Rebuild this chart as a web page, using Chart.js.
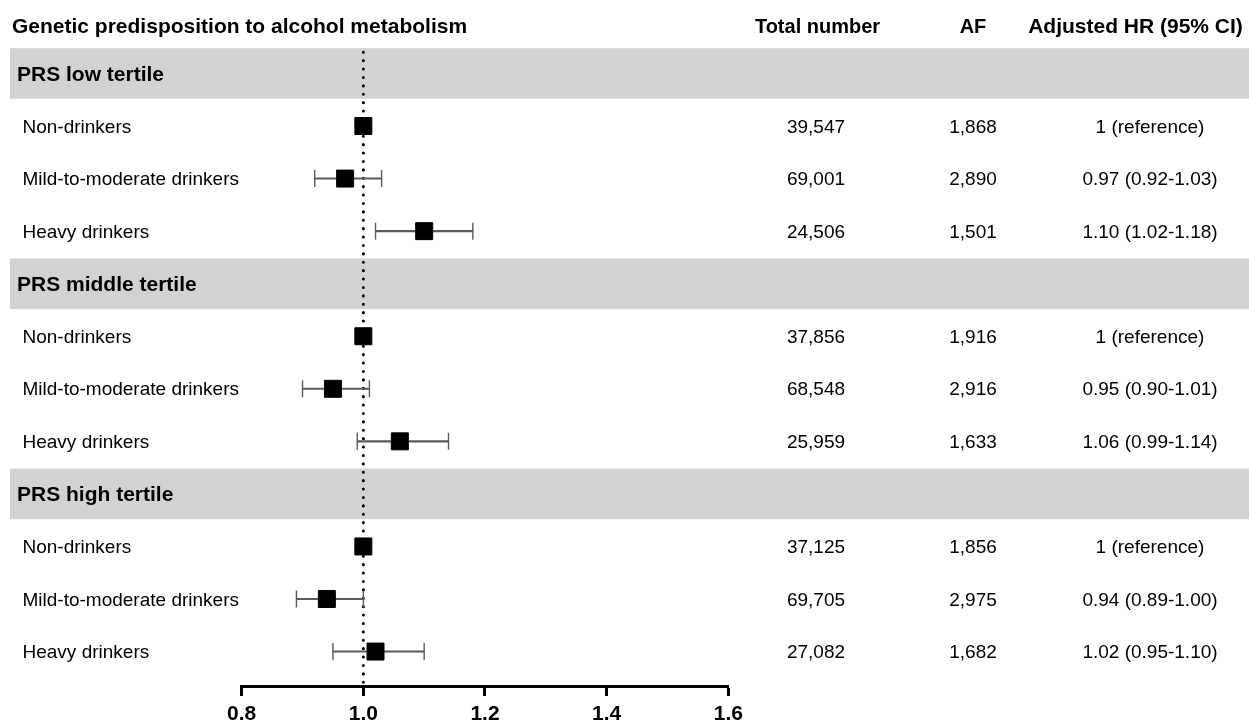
<!DOCTYPE html>
<html>
<head>
<meta charset="utf-8">
<script src="https://cdn.jsdelivr.net/npm/chart.js@4"></script>
<style>
  html, body { margin: 0; padding: 0; background: #fff; }
  #wrap { width: 1249px; height: 722px; position: relative; }
</style>
</head>
<body>
<div id="wrap"><canvas id="forest"></canvas></div>
<script>
// Rows top to bottom (group header rows have no estimate)
const rowLabels = [
  'PRS low tertile', 'Non-drinkers', 'Mild-to-moderate drinkers', 'Heavy drinkers',
  'PRS middle tertile', 'Non-drinkers', 'Mild-to-moderate drinkers', 'Heavy drinkers',
  'PRS high tertile', 'Non-drinkers', 'Mild-to-moderate drinkers', 'Heavy drinkers'
];
const isGroup = [true, false, false, false, true, false, false, false, true, false, false, false];

const hrValues = [null, 1, 0.97, 1.10, null, 1, 0.95, 1.06, null, 1, 0.94, 1.02];
const ciLow    = [null, null, 0.92, 1.02, null, null, 0.90, 0.99, null, null, 0.89, 0.95];
const ciHigh   = [null, null, 1.03, 1.18, null, null, 1.01, 1.14, null, null, 1.00, 1.10];

const totalNumber = ['', '39,547', '69,001', '24,506', '', '37,856', '68,548', '25,959', '', '37,125', '69,705', '27,082'];
const afCount     = ['', '1,868', '2,890', '1,501', '', '1,916', '2,916', '1,633', '', '1,856', '2,975', '1,682'];
const hrText = [
  '', '1 (reference)', '0.97 (0.92-1.03)', '1.10 (1.02-1.18)',
  '', '1 (reference)', '0.95 (0.90-1.01)', '1.06 (0.99-1.14)',
  '', '1 (reference)', '0.94 (0.89-1.00)', '1.02 (0.95-1.10)'
];
const xTicks = [0.8, 1.0, 1.2, 1.4, 1.6];
const refLine = 1.0;

const FONT = '"Liberation Sans", Arial, sans-serif';

// build dataset points from the arrays
const ciBars = [];
const capPoints = [];
const estPoints = [];
rowLabels.forEach((_, i) => {
  if (ciLow[i] != null) {
    ciBars.push({ y: i, x: [ciLow[i], ciHigh[i]] });
    capPoints.push({ y: i, x: ciLow[i] });
    capPoints.push({ y: i, x: ciHigh[i] });
  }
  if (hrValues[i] != null) estPoints.push({ y: i, x: hrValues[i] });
});

const forestDecor = {
  id: 'forestDecor',
  beforeDatasetsDraw(chart) {
    const { ctx, scales: { x, y }, chartArea } = chart;
    ctx.save();
    // grey bands behind group headers
    ctx.fillStyle = '#d2d2d2';
    rowLabels.forEach((_, i) => {
      if (!isGroup[i]) return;
      const top = y.getPixelForValue(i - 0.5);
      const bot = y.getPixelForValue(i + 0.5);
      ctx.fillRect(10, top + 1, chart.width - 10, bot - top - 2);
    });
    // dotted reference line
    const px = x.getPixelForValue(refLine);
    ctx.strokeStyle = '#000';
    ctx.lineWidth = 3;
    ctx.lineCap = 'round';
    ctx.setLineDash([0.1, 8.3]);
    ctx.beginPath();
    ctx.moveTo(px, chartArea.top + 5);
    ctx.lineTo(px, chartArea.bottom - 3);
    ctx.stroke();
    ctx.restore();
  },
  afterDraw(chart) {
    const { ctx, scales: { y } } = chart;
    ctx.save();
    ctx.fillStyle = '#000';
    ctx.textBaseline = 'alphabetic';

    // column headers
    ctx.font = 'bold 21px ' + FONT;
    ctx.textAlign = 'left';
    ctx.fillText('Genetic predisposition to alcohol metabolism', 12, 32.5);
    ctx.textAlign = 'center';
    ctx.fillText('Adjusted HR (95% CI)', 1135.5, 32.5);
    ctx.font = 'bold 20px ' + FONT;
    ctx.fillText('Total number', 817.5, 32.5);
    ctx.fillText('AF', 973, 32.5);

    rowLabels.forEach((label, i) => {
      const cy = y.getPixelForValue(i);
      if (isGroup[i]) {
        ctx.font = 'bold 21px ' + FONT;
        ctx.textAlign = 'left';
        ctx.fillText(label, 17, cy + 7.5);
        return;
      }
      ctx.font = '19px ' + FONT;
      ctx.textAlign = 'left';
      ctx.fillText(label, 22.5, cy + 6.5);
      ctx.textAlign = 'center';
      ctx.fillText(totalNumber[i], 816, cy + 6.5);
      ctx.fillText(afCount[i], 973, cy + 6.5);
      ctx.fillText(hrText[i], 1150, cy + 6.5);
    });
    ctx.restore();
  }
};

new Chart(document.getElementById('forest'), {
  type: 'bar',
  data: {
    datasets: [
      {
        type: 'bar',
        data: ciBars,
        backgroundColor: '#5a5a5a',
        barThickness: 1.4,
        order: 3
      },
      {
        type: 'scatter',
        data: capPoints,
        pointStyle: 'line',
        rotation: 90,
        radius: 8.5,
        borderColor: '#5a5a5a',
        borderWidth: 1.4,
        order: 2
      },
      {
        type: 'scatter',
        data: estPoints,
        pointStyle: 'rect',
        radius: 12,
        backgroundColor: '#000',
        borderColor: '#000',
        borderWidth: 1,
        order: 1
      }
    ]
  },
  options: {
    indexAxis: 'y',
    responsive: true,
    maintainAspectRatio: false,
    animation: false,
    layout: {
      padding: { left: 241.7, right: 520.7, top: 47.2, bottom: -11 }
    },
    plugins: {
      legend: { display: false },
      tooltip: { enabled: false }
    },
    scales: {
      x: {
        type: 'linear',
        position: 'bottom',
        min: 0.8,
        max: 1.6,
        afterBuildTicks: (scale) => { scale.ticks = xTicks.map(v => ({ value: v })); },
        grid: {
          drawOnChartArea: false,
          drawTicks: true,
          tickLength: 10,
          tickWidth: 3,
          tickColor: '#000'
        },
        border: { display: true, color: '#000', width: 3 },
        ticks: {
          color: '#000',
          padding: 8,
          maxRotation: 0,
          autoSkip: false,
          font: { family: FONT, size: 21, weight: 'bold', lineHeight: 1 },
          callback: (v) => Number(v).toFixed(1)
        }
      },
      y: {
        type: 'linear',
        min: -0.5,
        max: 11.655,
        reverse: true,
        offset: false,
        display: false
      }
    }
  },
  plugins: [forestDecor]
});
</script>
</body>
</html>
